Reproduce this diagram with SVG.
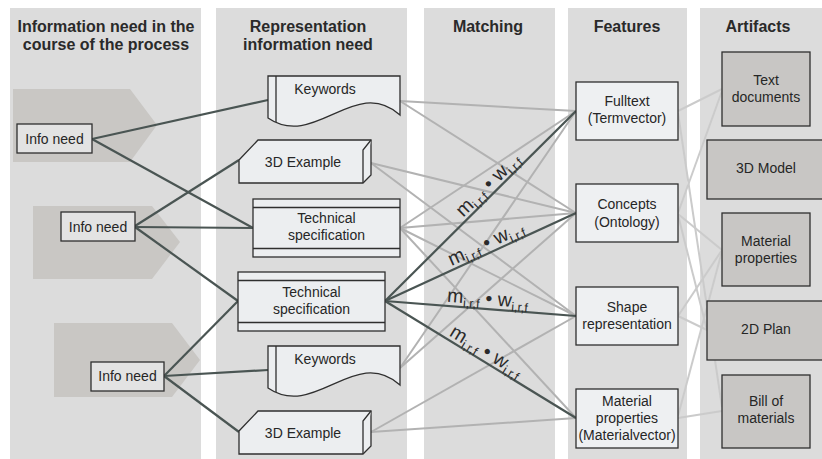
<svg xmlns="http://www.w3.org/2000/svg" width="822" height="459" viewBox="0 0 822 459">
<style>
.panel{fill:#dcdcdc}
.arrow{fill:#c9c7c4}
.info{fill:#e3e3e3;stroke:#2f2f2f;stroke-width:1.3}
.rep{fill:#eceef0;stroke:#2f2f2f;stroke-width:1.3;stroke-linejoin:miter}
.feat{fill:#eef0f2;stroke:#2f2f2f;stroke-width:1.3}
.art{fill:#c8c6c4;stroke:#2f2f2f;stroke-width:1.3}
.dark{stroke:#4a5553;stroke-width:2.2;fill:none}
.light{stroke:#b2b2b2;stroke-width:2;fill:none}
.faint{stroke:#cbcbcb;stroke-width:2;fill:none}
text{font-family:"Liberation Sans",Arial,sans-serif;font-size:14px;fill:#262626;text-anchor:middle}
.h{font-weight:bold;font-size:16px;fill:#2a2a2a}
.lbl{font-size:19.5px;fill:#2a2a2a}
.sub{font-size:12.5px}
</style>
<rect width="822" height="459" fill="#ffffff"/>
<g id="panels">
<rect class="panel" x="10" y="8" width="191" height="451"/>
<rect class="panel" x="216" y="8" width="191" height="451"/>
<rect class="panel" x="424" y="8" width="131" height="451"/>
<rect class="panel" x="568" y="8" width="119" height="451"/>
<rect class="panel" x="700" y="8" width="122" height="451"/>
<text class="h" x="106" y="32">Information need in the</text>
<text class="h" x="106" y="50">course of the process</text>
<text class="h" x="308" y="32">Representation</text>
<text class="h" x="308" y="50">information need</text>
<text class="h" x="488" y="32">Matching</text>
<text class="h" x="627" y="32">Features</text>
<text class="h" x="758" y="32">Artifacts</text>
<polygon class="arrow" points="13,89 130,89 157,125 130,162 13,162"/>
<polygon class="arrow" points="33,206 152,206 180,242 152,279 33,279"/>
<polygon class="arrow" points="54,323 172,323 200,360 172,397 54,397"/>
</g>
<g id="connectors">
<line class="faint" x1="678" y1="111" x2="722" y2="89"/>
<line class="faint" x1="678" y1="113" x2="722" y2="407"/>
<line class="faint" x1="678" y1="213" x2="722" y2="91"/>
<line class="faint" x1="678" y1="214" x2="722" y2="250"/>
<line class="faint" x1="678" y1="215" x2="707" y2="330"/>
<line class="faint" x1="678" y1="316" x2="722" y2="250"/>
<line class="faint" x1="678" y1="316" x2="707" y2="330"/>
<line class="faint" x1="678" y1="416" x2="722" y2="251"/>
<line class="faint" x1="678" y1="418" x2="722" y2="411"/>
<line class="light" x1="400" y1="101" x2="576" y2="111"/>
<line class="light" x1="400" y1="101" x2="576" y2="213"/>
<line class="light" x1="371" y1="163" x2="576" y2="213"/>
<line class="light" x1="371" y1="163" x2="576" y2="316"/>
<line class="light" x1="400" y1="228" x2="576" y2="111"/>
<line class="light" x1="400" y1="228" x2="576" y2="213"/>
<line class="light" x1="400" y1="228" x2="576" y2="316"/>
<line class="light" x1="400" y1="228" x2="576" y2="418"/>
<line class="light" x1="400" y1="368" x2="576" y2="111"/>
<line class="light" x1="400" y1="368" x2="576" y2="213"/>
<line class="light" x1="371" y1="432" x2="576" y2="316"/>
<line class="light" x1="371" y1="432" x2="576" y2="418"/>
<line class="dark" x1="92" y1="139" x2="268" y2="100"/>
<line class="dark" x1="92" y1="139" x2="253" y2="228"/>
<line class="dark" x1="135" y1="226" x2="239" y2="160"/>
<line class="dark" x1="135" y1="227" x2="253" y2="228"/>
<line class="dark" x1="135" y1="227" x2="238" y2="301"/>
<line class="dark" x1="164" y1="376" x2="238" y2="301"/>
<line class="dark" x1="164" y1="376" x2="268" y2="370"/>
<line class="dark" x1="164" y1="376" x2="239" y2="432"/>
<line class="dark" x1="385" y1="301" x2="576" y2="111"/>
<line class="dark" x1="385" y1="301" x2="576" y2="213"/>
<line class="dark" x1="385" y1="301" x2="576" y2="316"/>
<line class="dark" x1="385" y1="301" x2="576" y2="418"/>
<text class="lbl" transform="translate(495,192) rotate(-44.7)" y="-4">m<tspan class="sub" dy="4">i,r,f</tspan><tspan dy="-4"> • w</tspan><tspan class="sub" dy="4">i,r,f</tspan></text>
<text class="lbl" transform="translate(490,252.6) rotate(-24.7)" y="-4">m<tspan class="sub" dy="4">i,r,f</tspan><tspan dy="-4"> • w</tspan><tspan class="sub" dy="4">i,r,f</tspan></text>
<text class="lbl" transform="translate(487,309) rotate(4.5)" y="-4">m<tspan class="sub" dy="4">i,r,f</tspan><tspan dy="-4"> • w</tspan><tspan class="sub" dy="4">i,r,f</tspan></text>
<text class="lbl" transform="translate(481,360) rotate(31.5)" y="-4">m<tspan class="sub" dy="4">i,r,f</tspan><tspan dy="-4"> • w</tspan><tspan class="sub" dy="4">i,r,f</tspan></text>
</g>
<g id="info1"><rect class="info" x="17" y="124" width="75" height="29"/><text x="54.5" y="144">Info need</text></g>
<g id="info2"><rect class="info" x="61" y="212" width="74" height="29"/><text x="98" y="232">Info need</text></g>
<g id="info3"><rect class="info" x="91" y="362" width="73" height="29"/><text x="127.5" y="381">Info need</text></g>
<g id="keywords1" transform="translate(268,76)"><path class="rep" d="M0,0 H132 V39 C87,-1 47,74 0,42 Z"/><path class="rep" d="M8,0 V46"/><text x="57" y="18">Keywords</text></g>
<g id="example1" transform="translate(238,140)"><path class="rep" d="M1,20 L20,0 H133 V35 L125,43 H1 Z"/><path class="rep" fill="none" d="M125,43 V10 L133,0"/><text x="65" y="27">3D Example</text></g>
<g id="techspec1"><rect class="rep" x="253" y="199" width="147" height="58"/><path class="rep" d="M253,207.5 H400 M253,248.5 H400"/><text x="326.5" y="223">Technical</text><text x="326.5" y="240">specification</text></g>
<g id="techspec2"><rect class="rep" x="238" y="272" width="147" height="59"/><path class="rep" d="M238,280.5 H385 M238,322.5 H385"/><text x="311.5" y="297">Technical</text><text x="311.5" y="314">specification</text></g>
<g id="keywords2" transform="translate(268,346)"><path class="rep" d="M0,0 H132 V39 C87,-1 47,74 0,42 Z"/><path class="rep" d="M8,0 V46"/><text x="57" y="18">Keywords</text></g>
<g id="example2" transform="translate(238,411)"><path class="rep" d="M1,20 L20,0 H133 V35 L125,43 H1 Z"/><path class="rep" fill="none" d="M125,43 V10 L133,0"/><text x="65" y="27">3D Example</text></g>
<g id="fulltext"><rect class="feat" x="576" y="82" width="102" height="58"/><text x="627" y="106">Fulltext</text><text x="627" y="123">(Termvector)</text></g>
<g id="concepts"><rect class="feat" x="576" y="184" width="102" height="58"/><text x="627" y="209">Concepts</text><text x="627" y="227">(Ontology)</text></g>
<g id="shape"><rect class="feat" x="576" y="287" width="102" height="58"/><text x="627" y="312">Shape</text><text x="627" y="329">representation</text></g>
<g id="materialfeat"><rect class="feat" x="576" y="389" width="102" height="59"/><text x="627" y="406">Material</text><text x="627" y="423">properties</text><text x="627" y="440">(Materialvector)</text></g>
<g id="textdocs"><rect class="art" x="722" y="52" width="88" height="74"/><text x="766" y="85">Text</text><text x="766" y="102">documents</text></g>
<g id="model3d"><rect class="art" x="707" y="140" width="117" height="59"/><text x="766" y="173">3D Model</text></g>
<g id="materialart"><rect class="art" x="722" y="213" width="88" height="73"/><text x="766" y="246">Material</text><text x="766" y="263">properties</text></g>
<g id="plan2d"><rect class="art" x="707" y="301" width="117" height="59"/><text x="766" y="334">2D Plan</text></g>
<g id="bom"><rect class="art" x="722" y="375" width="88" height="73"/><text x="766" y="406">Bill of</text><text x="766" y="423">materials</text></g>
</svg>
